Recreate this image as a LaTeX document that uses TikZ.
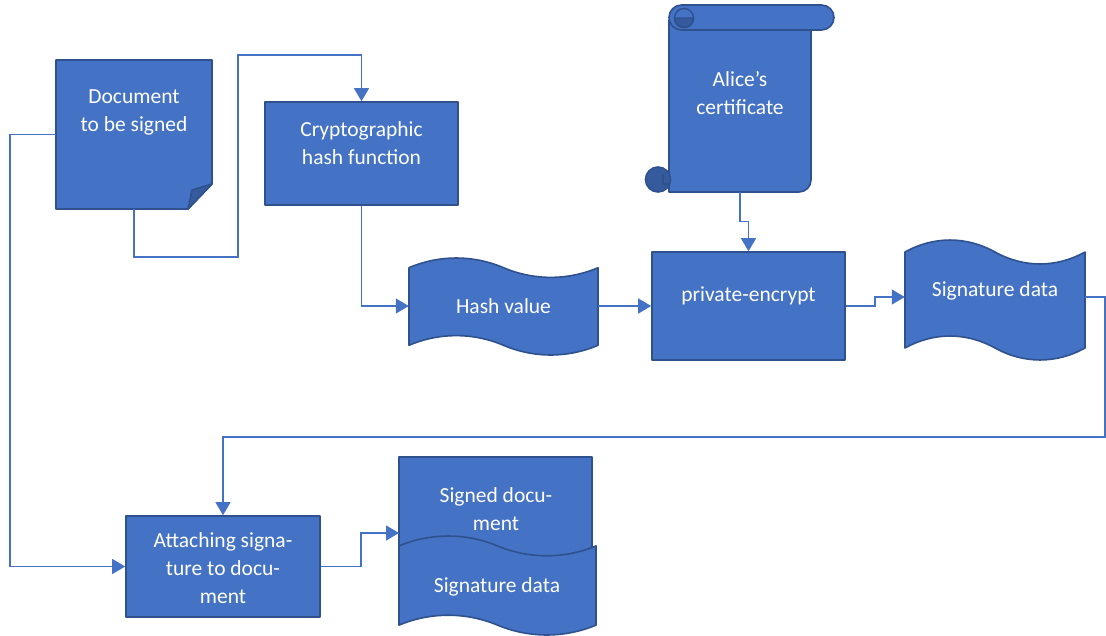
\documentclass[tikz,border=0pt]{standalone}
\usepackage{fontspec}
\setmainfont{Carlito}
\usetikzlibrary{arrows.meta}
\definecolor{offblue}{HTML}{4472C4}
\definecolor{offedge}{HTML}{2F528F}
\colorlet{curlshade}{offblue!80!black}

\tikzset{
  shapefill/.style={fill=offblue, draw=offedge, line width=1.6pt, line join=round},
  procbox/.style={shapefill, rectangle, inner sep=0pt},
  frame/.style={rectangle, inner sep=0pt},
  boxtext/.style={text=white, align=center, inner sep=0pt,
                  font=\fontsize{21.5}{28}\selectfont},
  flow/.style={draw=offblue, line width=1.2pt,
               -{Triangle[length=13pt,width=15pt]}},
}

% punched tape: left x, top y, width, height (wave depth = h/10)
\newcommand{\punchtape}[4]{%
  \filldraw[shapefill]
    (#1,{#2+0.1*#4})
      .. controls ({#1+0.16*#3},{#2-0.033*#4}) and ({#1+0.34*#3},{#2-0.033*#4})
      .. ({#1+0.5*#3},{#2+0.1*#4})
      .. controls ({#1+0.66*#3},{#2+0.233*#4}) and ({#1+0.84*#3},{#2+0.233*#4})
      .. ({#1+#3},{#2+0.1*#4})
    -- ({#1+#3},{#2+0.9*#4})
      .. controls ({#1+0.84*#3},{#2+1.033*#4}) and ({#1+0.66*#3},{#2+1.033*#4})
      .. ({#1+0.5*#3},{#2+0.9*#4})
      .. controls ({#1+0.34*#3},{#2+0.767*#4}) and ({#1+0.16*#3},{#2+0.767*#4})
      .. (#1,{#2+0.9*#4})
    -- cycle;}

\begin{document}
\begin{tikzpicture}[x=1pt, y=-1pt]
  \useasboundingbox (0,0) rectangle (1106,635);

  % document with folded corner
  \filldraw[shapefill] (56,60) -- (212,60) -- (212,184) -- (188,209)
    -- (56,209) -- cycle;
  \filldraw[shapefill, fill=curlshade] (188,209) -- (192,190) -- (212,184) -- cycle;
  \node[frame, minimum width=156pt, minimum height=149pt] (doc) at (134,134.5) {};
  \node[boxtext] (doc-txt) at (134,112) {Document\\to be signed};

  % hash function and private-encrypt boxes
  \node[procbox, minimum width=193pt, minimum height=103pt] (hashfn) at (361.5,153.5) {};
  \node[boxtext] (hashfn-txt) at (361.5,143) {Cryptographic\\hash function};
  \node[procbox, minimum width=193pt, minimum height=108pt] (penc) at (748.5,306) {};
  \node[boxtext] (penc-txt) at (748.5,296) {private-encrypt};

  % tapes
  \punchtape{409}{258}{189}{97}
  \node[frame, minimum width=189pt, minimum height=97pt] (hashval) at (503.5,306) {};
  \node[boxtext] (hashval-txt) at (503.5,306) {Hash value};
  \punchtape{905}{240}{180}{120}
  \node[frame, minimum width=180pt, minimum height=114pt] (sigdata) at (995,297) {};
  \node[boxtext] (sigdata-txt) at (995,291) {Signature data};

  % Alice's scroll
  \filldraw[shapefill] (669,20) -- (669,192) -- (760,192) [rounded corners=12pt]
    -- (811,192) -- (811,100) [sharp corners] -- (811,20) -- cycle;
  \filldraw[shapefill, fill=curlshade] (658,179.5) circle (12.5);
  \draw[offedge, line width=1.2pt] (663,174) -- (663,184) -- (669,184);
  \filldraw[shapefill, rounded corners=12.5pt] (669,5) rectangle (834,30);
  \filldraw[shapefill, fill=curlshade, line width=1.3pt] (674.5,18) -- (693.5,18)
    .. controls (693.5,30.7) and (674.5,30.7) .. (674.5,18) -- cycle;
  \draw[offedge, line width=1.4pt] (684,18) circle (9.5);
  \node[frame, minimum width=142pt, minimum height=187pt] (cert) at (740,98.5) {};
  \node[boxtext] (cert-txt) at (740,93) {Alice’s\\certificate};

  % attaching box and signed document
  \node[procbox, minimum width=194pt, minimum height=101pt] (attach) at (223,566.5) {};
  \node[boxtext] (attach-txt) at (223,568) {Attaching signa-\\ture to docu-\\ment};
  \filldraw[shapefill] (399,560) -- (399,457) -- (592,457) -- (592,560);
  \punchtape{399}{536}{197}{99}
  \node[frame, minimum width=197pt, minimum height=166pt] (signed) at (497.5,540) {};
  \node[boxtext] (signed-txt) at (496,509) {Signed docu-\\ment};
  \node[boxtext] (signed-sig) at (497,587) {Signature data};

  % connectors
  \coordinate (jog1) at (238,257);
  \coordinate (jog2) at (238,55);
  \coordinate (jog3) at (875,302);
  \coordinate (jog4) at (361,550);
  \coordinate (rim) at (1105,437);
  \coordinate (margin) at (10,300);
  \coordinate (signed-in) at (399,533);
  \draw[flow] (doc.south) |- (jog1) -- (jog2) -| (hashfn.north);
  \draw[flow] (hashfn.south) |- (hashval.west);
  \draw[flow] (hashval.east) -- (penc.west);
  \draw[flow] (cert.south) -- ++(0,29) -| (penc.north);
  \draw[flow] (penc.east) -| (jog3) |- (sigdata.west);
  \draw[flow] (sigdata.east) -| (rim) -| (attach.north);
  \draw[flow] (doc.west) -| (margin) |- (attach.west);
  \draw[flow] (attach.east) -| (jog4) |- (signed-in);
\end{tikzpicture}
\end{document}
